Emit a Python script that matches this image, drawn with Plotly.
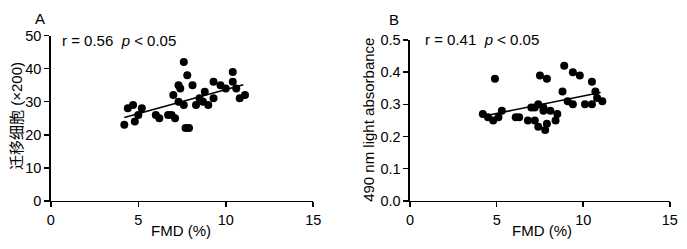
import plotly.graph_objects as go

# Panel A data
fmd_a = [4.2, 4.4, 4.7, 4.8, 5.0, 5.2, 6.0, 6.2, 6.7, 6.9, 7.1, 7.0, 7.3, 7.4, 7.6, 7.8, 8.1, 7.3, 7.6, 7.7, 7.9,
         8.3, 8.5, 8.7, 8.8, 9.0, 9.3, 9.3, 9.7, 10.0, 10.4, 10.4, 10.6, 10.8, 11.1]
cells_a = [23, 28, 29, 24, 26, 28, 26, 25, 26, 26, 25, 32, 35, 34, 42, 38, 35, 30, 29, 22, 22,
           29, 31, 30, 33, 29, 36, 31, 35, 34, 39, 36, 34, 31, 32]
fit_a_x = [4.2, 11.0]
fit_a_y = [25.2, 35.1]

# Panel B data
fmd_b = [4.2, 4.5, 4.8, 4.9, 5.1, 5.3, 6.1, 6.3, 6.8, 7.0, 7.2, 7.2, 7.4, 7.5, 7.4, 7.7, 7.7, 7.8, 7.9, 7.9,
         8.1, 8.4, 8.5, 8.8, 8.9, 9.1, 9.4, 9.4, 9.8, 10.1, 10.5, 10.5, 10.7, 10.8, 11.1]
abs_b = [0.27, 0.26, 0.25, 0.38, 0.26, 0.28, 0.26, 0.26, 0.25, 0.29, 0.29, 0.25, 0.23, 0.39, 0.30, 0.29, 0.28,
         0.22, 0.24, 0.38, 0.28, 0.25, 0.27, 0.34, 0.42, 0.31, 0.40, 0.30, 0.39, 0.30, 0.30, 0.37, 0.34, 0.32, 0.31]
fit_b_x = [4.2, 11.0]
fit_b_y = [0.263, 0.337]

x_ticks = [0, 5, 10, 15]
y_ticks_a = [0, 10, 20, 30, 40, 50]
y_ticks_b = [0.0, 0.1, 0.2, 0.3, 0.4, 0.5]
y_ticklabels_b = ["0.0", "0.1", "0.2", "0.3", "0.4", "0.5"]

FONT = "Liberation Sans, Arial, Noto Sans CJK SC, sans-serif"
W, H = 687, 249
TXT = 15

fig = go.Figure()
fig.add_trace(go.Scatter(x=fmd_a, y=cells_a, mode="markers", marker=dict(color="black", size=8),
                         xaxis="x", yaxis="y", showlegend=False))
fig.add_trace(go.Scatter(x=fit_a_x, y=fit_a_y, mode="lines", line=dict(color="black", width=1.6),
                         xaxis="x", yaxis="y", showlegend=False))
fig.add_trace(go.Scatter(x=fmd_b, y=abs_b, mode="markers", marker=dict(color="black", size=8),
                         xaxis="x2", yaxis="y2", showlegend=False))
fig.add_trace(go.Scatter(x=fit_b_x, y=fit_b_y, mode="lines", line=dict(color="black", width=1.6),
                         xaxis="x2", yaxis="y2", showlegend=False))

axis_common = dict(showline=True, linecolor="black", linewidth=1.6, ticks="outside", ticklen=5,
                   tickwidth=1.6, tickcolor="black", showgrid=False, zeroline=False,
                   tickfont=dict(family=FONT, size=14.5, color="black"), fixedrange=True)

def px_x(p):
    return p / W

def px_y(p):
    return 1 - p / H

fig.update_layout(
    width=W, height=H,
    margin=dict(l=0, r=0, t=0, b=0),
    plot_bgcolor="white", paper_bgcolor="white",
    font=dict(family=FONT, size=TXT, color="black"),
    xaxis=dict(domain=[px_x(47.7), px_x(314.7)], range=[0, 15], tickvals=x_ticks, anchor="y", **axis_common),
    yaxis=dict(domain=[px_y(206), px_y(29.5)], range=[0, 50], tickvals=y_ticks_a, anchor="x", **axis_common),
    xaxis2=dict(domain=[px_x(413.3), px_x(677.7)], range=[0, 15], tickvals=x_ticks, anchor="y2", **axis_common),
    yaxis2=dict(domain=[px_y(206), px_y(34.3)], range=[0, 0.5], tickvals=y_ticks_b, ticktext=y_ticklabels_b,
                anchor="x2", **axis_common),
)

def ann(text, x, y, xanchor="center", angle=0, size=TXT):
    fig.add_annotation(text=text, x=px_x(x), y=px_y(y), xref="paper", yref="paper", showarrow=False,
                       xanchor=xanchor, yanchor="middle", textangle=angle,
                       font=dict(family=FONT, size=size, color="black"))

ann("A", 37, 11.5)
ann("B", 397, 12)
ann("r = 0.56&nbsp;&nbsp;<i>p</i> &lt; 0.05", 57, 35, xanchor="left")
ann("r = 0.41&nbsp;&nbsp;<i>p</i> &lt; 0.05", 426, 33.5, xanchor="left")
ann("FMD (%)", 180, 238)
ann("FMD (%)", 548, 238)
ann("迁移细胞 (×200)", 12.5, 115, angle=-90)
ann("490 nm light absorbance", 371.5, 119.5, angle=-90)

fig.write_html("out.html",
               config={"displayModeBar": False, "staticPlot": True},
               post_script="document.body.style.margin='0';document.body.style.overflow='hidden';")
